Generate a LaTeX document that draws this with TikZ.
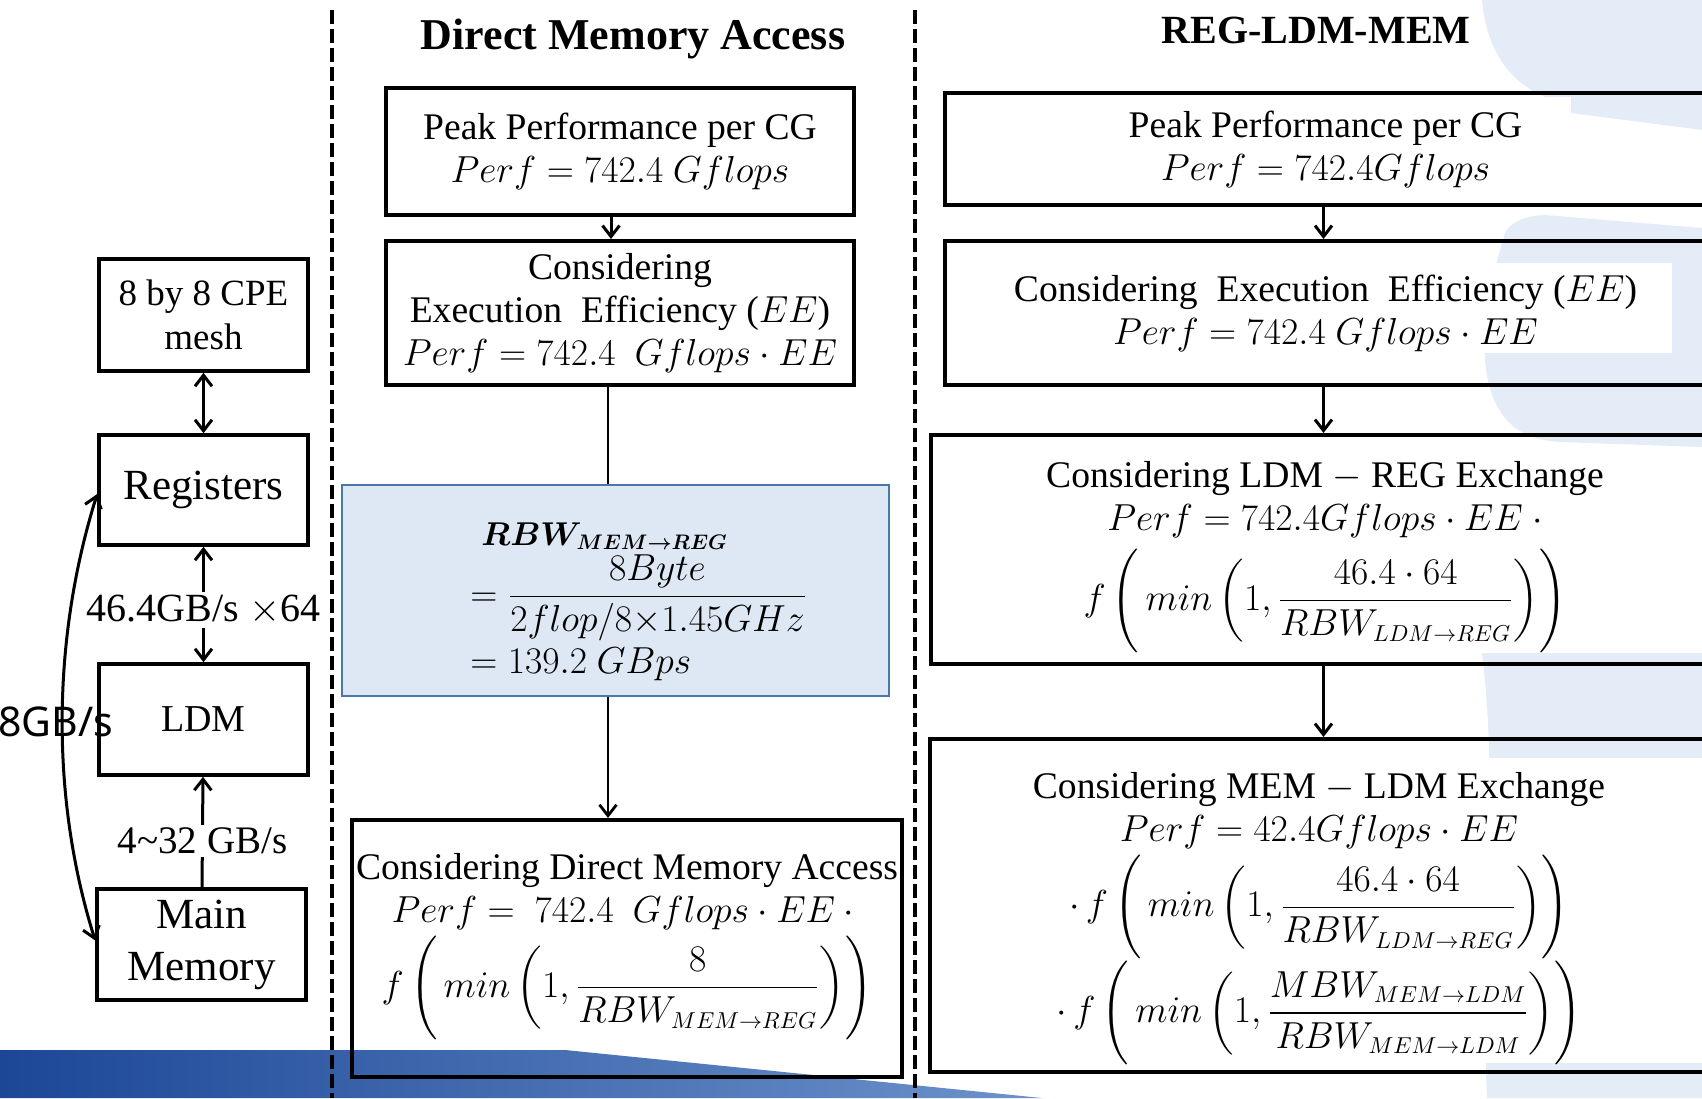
\RequirePackage{fix-cm}
\documentclass[tikz,border=0pt]{standalone}
\usepackage{amsmath}
\usepackage{fontspec}
\setmainfont{Liberation Serif}
\newfontfamily\ratefont{Noto Sans}
\usetikzlibrary{arrows.meta}

\definecolor{tintblue}{HTML}{E4EDF7}
\definecolor{rbwfill}{HTML}{DEE8F4}
\definecolor{rbwline}{HTML}{4A78AE}
\definecolor{bardark}{HTML}{1C4797}
\definecolor{barlight}{HTML}{6D93CB}

% compact subscripts for the formulas
\DeclareMathSizes{18.8}{18.8}{11.5}{9}
\DeclareMathSizes{16.5}{16.5}{10.5}{8}

\newcommand\bodyfont{\fontsize{18.8pt}{21.5pt}\selectfont}
\newcommand\tallstrut{\vrule height 1.75em depth 1.25em width 0pt}
\newcommand\limitfactor[2]{f\left(\tallstrut\,min\left(1,\dfrac{#1}{#2}\right)\right)}

\begin{document}
\begin{tikzpicture}[x=0.5pt,y=-0.5pt,
  >={Straight Barb[length=5.5pt,width=8.5pt]},
  flowbox/.style={draw, line width=2pt, inner sep=0pt, align=center, font=\bodyfont},
  flowtext/.style={inner sep=0pt, align=center, font=\bodyfont},
  unitbox/.style={draw, line width=1.8pt, inner sep=0pt, align=center, minimum width=104.5pt},
  link/.style={line width=1.5pt},
  thinlink/.style={line width=1.4pt},
  divider/.style={line width=1.7pt, dash pattern=on 7pt off 2.5pt},
  ratelabel/.style={fill=white, inner sep=1.5pt},
  heading/.style={font=\bfseries\fontsize{22pt}{26pt}\selectfont}
]
\path[use as bounding box] (0,0) rectangle (1702,1098);
\clip (0,0) rectangle (1702,1098);

% pale decorative tint along the right margin
\fill[tintblue] (1482,0) .. controls (1486,45) and (1505,80) .. (1545,97) -- (1702,97) -- (1702,0) -- cycle;
\fill[tintblue] (1571,97) -- (1702,97) -- (1702,130) -- (1571,113) -- cycle;
\fill[tintblue] (1503,240) .. controls (1505,225) and (1520,216) .. (1545,215) -- (1702,228) -- (1702,447)
  -- (1560,442) .. controls (1520,440) and (1490,420) .. (1485,360) .. controls (1483,300) and (1497,262) .. (1503,240) -- cycle;
\fill[tintblue] (1482,653) -- (1702,653) -- (1702,1098) -- (1487,1098) .. controls (1480,950) and (1500,800) .. (1482,653) -- cycle;
\fill[white] (945,263) rectangle (1672,353);
\fill[white] (930,758) rectangle (1702,1063);

% blue band at the bottom
\shade[left color=bardark, right color=barlight] (0,1050) -- (565,1050) -- (1042,1098) -- (0,1098) -- cycle;

% column dividers
\coordinate (divAtop) at (332,10);
\coordinate (divAbot) at (332,1098);
\coordinate (divBtop) at (915,10);
\coordinate (divBbot) at (915,1098);
\draw[divider] (divAtop) -- (divAbot);
\draw[divider] (divBtop) -- (divBbot);

% memory hierarchy
\node[unitbox, minimum height=56pt, font=\fontsize{18.5pt}{21.7pt}\selectfont] (cpe) at (203.5,315) {8 by 8 CPE\\mesh};
\node[unitbox, minimum height=55pt, font=\fontsize{21.5pt}{26pt}\selectfont] (reg) at (203.5,490) {Registers};
\node[unitbox, minimum height=55.5pt, font=\fontsize{19pt}{23pt}\selectfont] (ldm) at (203.5,719.5) {LDM};
\node[unitbox, minimum height=55.5pt, font=\fontsize{21.5pt}{26pt}\selectfont] (mm) at (201.5,944.5) {Main\\Memory};

\draw[link, <->] (cpe) -- (reg);
\draw[link, <->] (reg) -- node[ratelabel, pos=0.55, font=\fontsize{20pt}{24pt}\selectfont] (regrate) {46.4GB/s $\times$64} (ldm);
\draw[link, ->] (mm) -- node[ratelabel, pos=0.42, font=\fontsize{19.5pt}{24pt}\selectfont] (memrate) {4\textasciitilde32 GB/s} (ldm);
\draw[link, <->] ([yshift=-2pt]reg.west) .. controls +(-45,144) and +(-45,-144) .. ([yshift=2pt]mm.west);
\node[anchor=west, inner sep=0pt, font=\ratefont\fontsize{20.5pt}{24pt}\selectfont] (dmarate) at (-2,722) {8GB/s};

% direct memory access column
\node[heading] (dmatitle) at (633,39) {Direct Memory Access};
\node[flowbox, minimum width=234pt, minimum height=63.5pt] (b1) at (620,151.5)
  {Peak Performance per CG\\$Perf = 742.4\ Gflops$};
\node[flowbox, minimum width=234pt, minimum height=72pt] (b2) at (620,313)
  {Considering\\Execution\ \ Efficiency ($EE$)\\$Perf = 742.4\ \ Gflops\cdot EE$};
\node[draw=rbwline, fill=rbwfill, line width=1.1pt, minimum width=273.5pt, minimum height=105.5pt] (rbw) at (615.5,590.5) {};
\node[anchor=base west, inner sep=0pt, font=\fontsize{16.5pt}{20pt}\selectfont] (rbwname) at (481,545)
  {$\boldsymbol{RBW_{MEM\rightarrow REG}}$};
\node[anchor=base west, inner sep=0pt, font=\bodyfont] (rbwfrac) at (470,606)
  {$=\dfrac{8Byte}{2flop/8{\times}1.45GHz}$};
\node[anchor=base west, inner sep=0pt, font=\bodyfont] (rbwval) at (470,673) {$=139.2\ GBps$};
\node[flowbox, minimum width=275pt, minimum height=128.5pt] (b4) at (627,948.5)
  {Considering Direct Memory Access\\$Perf =\ 742.4\ \ Gflops\cdot EE\cdot{}$\\
   $\limitfactor{8}{RBW_{MEM\rightarrow REG}}$};

\coordinate (spine) at ([xshift=-6pt]b2.south);
\draw[link, ->] ([xshift=-4.5pt]b1.south) -- ([xshift=-4.5pt]b2.north);
\draw[thinlink] (spine) -- (spine |- rbw.north);
\draw[thinlink, ->] (spine |- rbw.south) -- (spine |- b4.north);

% REG-LDM-MEM column
\node[heading, font=\bfseries\fontsize{20pt}{24pt}\selectfont] (hiertitle) at (1316,30) {REG-LDM-MEM};
\node[flowbox, minimum width=380.5pt, minimum height=56pt] (r1) at (1325.5,149)
  {Peak Performance per CG\\$Perf = 742.4Gflops$};
\node[flowbox, minimum width=380.5pt, minimum height=72pt] (r2) at (1325.5,313)
  {Considering\ \ Execution\ \ Efficiency ($EE$)\\$Perf = 742.4\ Gflops\cdot EE$};
\node[flowbox, minimum width=387.5pt, minimum height=114.5pt] (r3) at (1318.5,549.5) {};
\node[flowtext] (r3text) at (1325,559.5)
  {Considering LDM $-$ REG Exchange\\$Perf = 742.4Gflops\cdot EE\ \cdot$\\[2pt]
   $\limitfactor{46.4\cdot 64}{RBW_{LDM\rightarrow REG}}$};
\node[flowbox, minimum width=388pt, minimum height=166.5pt] (r4) at (1318,905.5) {};
\node[flowtext] (r4text) at (1319,921)
  {Considering MEM $-$ LDM Exchange\\$Perf = 42.4Gflops\cdot EE$\\
   $\cdot\,\limitfactor{46.4\cdot 64}{RBW_{LDM\rightarrow REG}}$\\[-4.5pt]
   $\cdot\,\limitfactor{MBW_{MEM\rightarrow LDM}}{RBW_{MEM\rightarrow LDM}}$};

\draw[link, ->] ([xshift=-1pt]r1.south) -- ([xshift=-1pt]r1.south |- r2.north);
\draw[link, ->] ([xshift=-1pt]r2.south) -- ([xshift=-1pt]r2.south |- r3.north);
\draw[link, ->] ([xshift=-1pt]r2.south |- r3.south) -- ([xshift=-1pt]r2.south |- r4.north);
\end{tikzpicture}
\end{document}
